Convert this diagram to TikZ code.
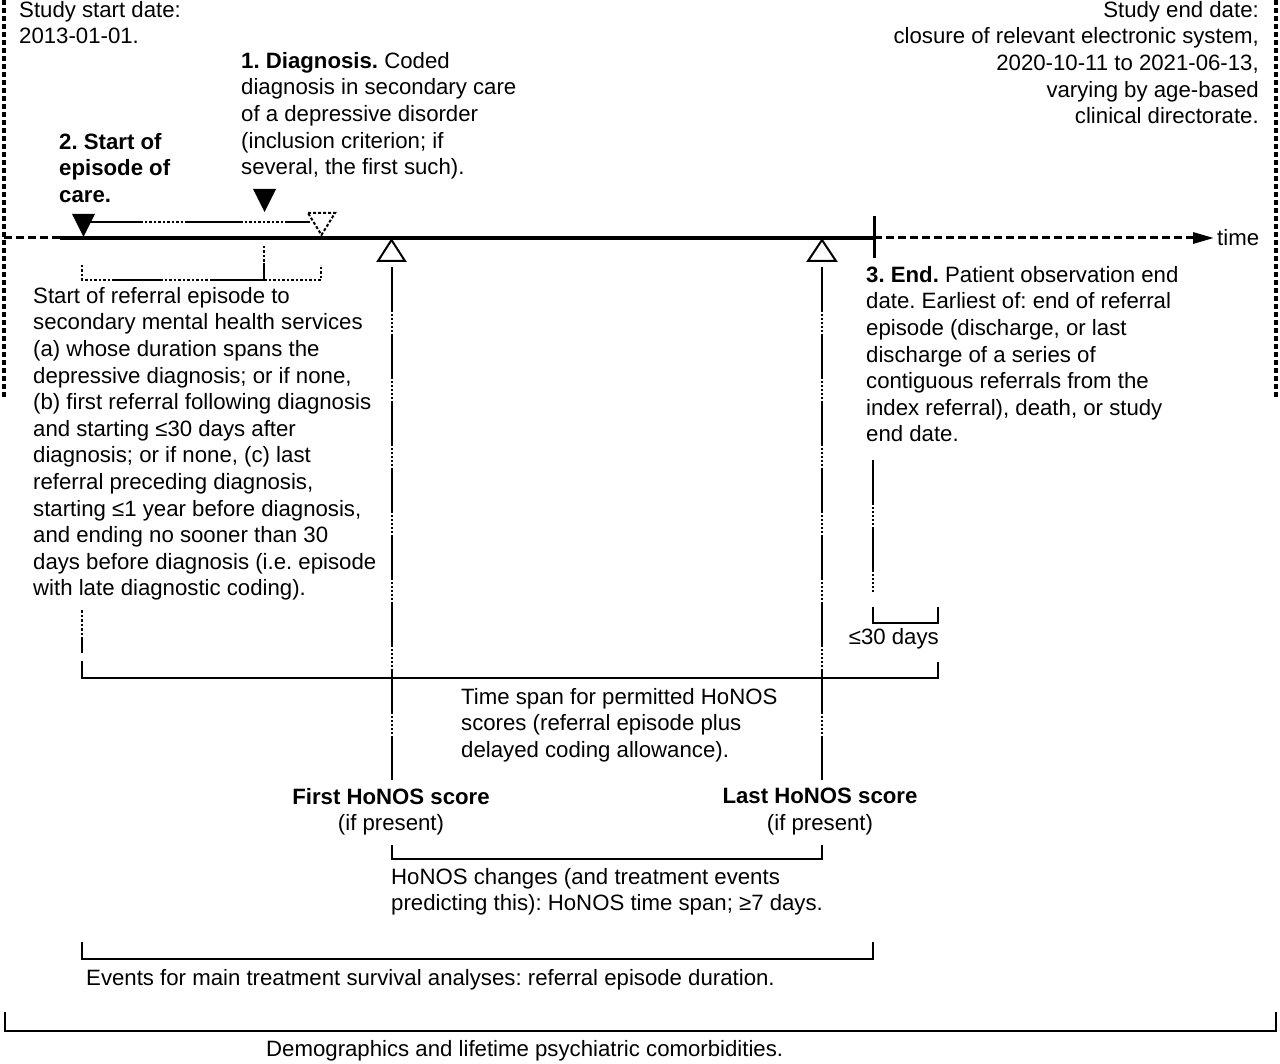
\documentclass[tikz,border=0pt]{standalone}
\usepackage{fontspec}
\setmainfont{Liberation Sans}
\usetikzlibrary{arrows.meta}
\frenchspacing
\begin{document}
\begin{tikzpicture}[x=1pt,y=-1pt,
  txt/.style={inner sep=0pt, font=\fontsize{22.2}{26.6}\selectfont, align=left},
  brk/.style={line width=2pt},
  mixline/.style={line width=2pt, dash pattern=on 45pt off 2pt on 2pt off 2pt on 2pt off 2pt on 2pt off 2pt on 2pt off 2pt on 2pt off 2pt},
  dotl/.style={line width=2pt, dash pattern=on 2.5pt off 2pt},
  border/.style={line width=3.2pt, dash pattern=on 5pt off 3pt},
  tdash/.style={line width=3pt, dash pattern=on 8pt off 4pt},
]
\useasboundingbox (0,0) rectangle (1280,1064);

% ---- borders of study period
\coordinate (bl0) at (4,0);    \coordinate (bl1) at (4,398);
\coordinate (br0) at (1276,0); \coordinate (br1) at (1276,398);
\draw[border] (bl0) -- (bl1);
\draw[border] (br0) -- (br1);

% ---- time line
\coordinate (tl0) at (4,238);
\coordinate (tl1) at (60,238);
\coordinate (tEnd) at (874,238);
\coordinate (tArrow) at (1214,238);
\coordinate (tick0) at (874,216);
\coordinate (tick1) at (874,258);
\draw[tdash] (tl0) -- (tl1);
\draw[line width=3.5pt] (tl1) -- (tEnd);
\draw[tdash, -{Triangle[length=21pt,width=11pt]}] (tEnd) -- (tArrow);
\draw[line width=3pt] (tick0) -- (tick1);
\node[txt, anchor=west] (time) at (1217,238) {time};

% ---- line from start of episode to the dotted marker
\coordinate (h0) at (83,222);  \coordinate (h1) at (140,222);
\coordinate (h2) at (185,222); \coordinate (h3) at (240,222);
\coordinate (h4) at (285,222); \coordinate (h5) at (310,222);
\draw[brk] (h0) -- (h1);
\draw[dotl] (h1) -- (h2);
\draw[brk] (h2) -- (h3);
\draw[dotl] (h3) -- (h4);
\draw[brk] (h4) -- (h5);

% ---- markers
\fill (72,214) -- (95,214) -- (83.5,237) -- cycle;
\fill (253,189) -- (276,189) -- (264.5,212) -- cycle;
\draw[line width=2pt, dash pattern=on 3pt off 2pt, fill=white] (308,213) -- (335,213) -- (321.5,235) -- cycle;
\draw[line width=2pt, fill=white] (378,261) -- (405,261) -- (391.5,240) -- cycle;
\draw[line width=2pt, fill=white] (808,261) -- (836,261) -- (822,240) -- cycle;

% ---- bracket under the start of the time line
\coordinate (b0) at (82,265);  \coordinate (b1) at (82,280);
\coordinate (b2) at (112,280); \coordinate (b3) at (160,280);
\coordinate (b4) at (210,280); \coordinate (b5) at (264,280);
\coordinate (b6) at (321,280); \coordinate (b7) at (321,265);
\coordinate (d0) at (264,246); \coordinate (d1) at (264,263);
\draw[dotl] (b0) -- (b1) -- (b2);
\draw[brk] (b2) -- (b3);
\draw[dotl] (b3) -- (b4);
\draw[brk] (b4) -- (b5);
\draw[dotl] (b5) -- (b6) -- (b7);
\draw[dotl] (d0) -- (d1);
\draw[brk] (d1) -- (b5);

% ---- vertical guide lines
\coordinate (f0) at (391.5,267); \coordinate (f1) at (391.5,780);
\coordinate (l0) at (822,267);   \coordinate (l1) at (822,780);
\coordinate (e0) at (873,460);   \coordinate (e1) at (873,592);
\draw[mixline] (f0) -- (f1);
\draw[mixline] (l0) -- (l1);
\draw[mixline] (e0) -- (e1);

% ---- brackets
\coordinate (s0) at (873,607); \coordinate (s1) at (873,623);
\coordinate (s2) at (938,623); \coordinate (s3) at (938,607);
\draw[brk] (s0) -- (s1) -- (s2) -- (s3);

\coordinate (p0) at (82,610); \coordinate (p1) at (82,640);
\coordinate (p2) at (82,653); \coordinate (p3) at (82,661);
\coordinate (p4) at (82,678); \coordinate (p5) at (938,678);
\coordinate (p6) at (938,662);
\draw[dotl] (p0) -- (p1);
\draw[brk] (p1) -- (p2);
\draw[brk] (p3) -- (p4) -- (p5) -- (p6);

\coordinate (c0) at (391.5,845); \coordinate (c1) at (391.5,859);
\coordinate (c2) at (822,859);   \coordinate (c3) at (822,845);
\draw[brk] (c0) -- (c1) -- (c2) -- (c3);

\coordinate (v0) at (82,942);  \coordinate (v1) at (82,959);
\coordinate (v2) at (873,959); \coordinate (v3) at (873,942);
\draw[brk] (v0) -- (v1) -- (v2) -- (v3);

\coordinate (g0) at (5,1012);    \coordinate (g1) at (5,1031);
\coordinate (g2) at (1276,1031); \coordinate (g3) at (1276,1012);
\draw[brk] (g0) -- (g1) -- (g2) -- (g3);

% ---- texts
\node[txt, anchor=north west] (start) at (19,1) {Study start date:\\2013-01-01.};
\node[txt, anchor=north east, align=right] (end) at (1259,1) {Study end date:\\closure of relevant electronic system,\\2020-10-11 to 2021-06-13,\\varying by age-based\\clinical directorate.};
\node[txt, anchor=north west] (diag) at (241,52) {\textbf{1. Diagnosis.} Coded\\diagnosis in secondary care\\of a depressive disorder\\(inclusion criterion; if\\several, the first such).};
\node[txt, anchor=north west, font=\fontsize{22.2}{26.6}\selectfont\bfseries] (epi) at (59,133) {2. Start of\\episode of\\care.};
\node[txt, anchor=north west] (obs) at (866,266) {\textbf{3. End.} Patient observation end\\date. Earliest of: end of referral\\episode (discharge, or last\\discharge of a series of\\contiguous referrals from the\\index referral), death, or study\\end date.};
\node[txt, anchor=north west] (ref) at (33,287) {Start of referral episode to\\secondary mental health services\\(a) whose duration spans the\\depressive diagnosis; or if none,\\(b) first referral following diagnosis\\and starting ≤30 days after\\diagnosis; or if none, (c) last\\referral preceding diagnosis,\\starting ≤1 year before diagnosis,\\and ending no sooner than 30\\days before diagnosis (i.e. episode\\with late diagnostic coding).};
\node[txt, anchor=base east] (thirty) at (939,644) {≤30 days};
\node[txt, anchor=north west] (span) at (461,688) {Time span for permitted HoNOS\\scores (referral episode plus\\delayed coding allowance).};
\node[txt, anchor=north, align=center] (first) at (391,788) {\textbf{First HoNOS score}\\(if present)};
\node[txt, anchor=north, align=center] (last) at (820,788) {\textbf{Last HoNOS score}\\(if present)};
\node[txt, anchor=north west] (chg) at (391,868) {HoNOS changes (and treatment events\\predicting this): HoNOS time span; ≥7 days.};
\node[txt, anchor=north west] (evt) at (86,969) {Events for main treatment survival analyses: referral episode duration.};
\node[txt, anchor=north west] (demo) at (266,1040) {Demographics and lifetime psychiatric comorbidities.};
\end{tikzpicture}
\end{document}
